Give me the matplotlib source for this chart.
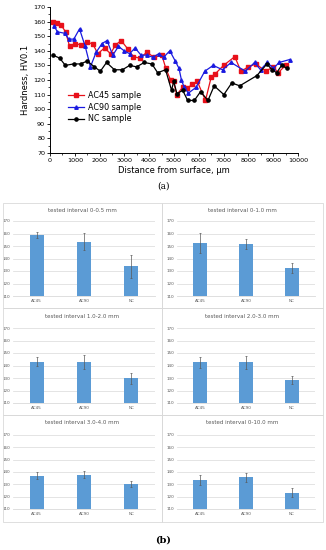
import numpy as np
import matplotlib
matplotlib.use('Agg')
from matplotlib import pyplot as plt
from matplotlib.patches import Rectangle
from matplotlib.ticker import MultipleLocator

# ---- hardness profiles (a)
ac45_x = [120, 270, 430, 630, 790, 1020, 1245, 1510, 1730, 1930, 2200, 2440, 2640, 2870, 3150,
          3360, 3610, 3910, 4200, 4510, 4670, 4860, 4980, 5110, 5350, 5540, 5740, 5940, 6270,
          6500, 6650, 7000, 7450, 7700, 8000, 8300, 8700, 9000, 9200, 9500]
ac45_y = [160, 159, 158, 153, 143, 145, 144, 146, 144.5, 138, 142, 138, 144, 147, 141,
          136, 135, 139, 135.5, 137, 128, 120, 119, 110, 115, 114.5, 117, 119, 106,
          122, 124, 130, 136, 126, 129, 131, 126, 129, 125, 130]

ac90_x = [160, 300, 590, 760, 960, 1190, 1420, 1630, 1860, 2100, 2300, 2530, 2760, 2990, 3210,
          3430, 3670, 3920, 4150, 4380, 4580, 4830, 5050, 5200, 5300, 5410, 5580, 5890, 6240,
          6580, 6960, 7300, 7880, 8250, 8490, 8760, 9010, 9240, 9660]
ac90_y = [157, 153, 152, 148, 148, 155, 143, 129, 139, 145, 147, 137, 143, 140, 138,
          142, 137, 137, 135.5, 138, 135.5, 140, 133, 128, 120, 115, 111, 115, 126,
          130, 127, 132, 126, 132, 127, 132, 128, 132, 134]

nc_x = [120, 390, 620, 950, 1230, 1500, 1790, 2030, 2280, 2600, 2920, 3210, 3490, 3800, 4110,
        4340, 4660, 4900, 4990, 5120, 5350, 5550, 5820, 6070, 6370, 6620, 7010, 7330, 7650,
        8340, 8750, 8950, 9140, 9340, 9560]
nc_y = [137, 135, 130, 131, 131, 133, 129, 126, 132, 127, 127, 130, 129, 132, 131,
        125, 127, 113, 119, 110.5, 113, 106, 106, 112, 106, 116, 110, 118, 116,
        123, 131, 127, 125, 130, 128]

# ---- interval means (b)
samples = ['AC45', 'AC90', 'NC']
intervals = ['0-0.5 mm', '0-1.0 mm', '1.0-2.0 mm', '2.0-3.0 mm', '3.0-4.0 mm', '0-10.0 mm']
means = [[158.8, 153.6, 133.8],
         [152.6, 152.0, 132.7],
         [143.2, 142.6, 129.7],
         [142.6, 142.6, 128.5],
         [136.9, 137.9, 130.3],
         [133.4, 135.6, 123.3]]
errs = [[2.7, 6.6, 9.3],
        [8.0, 4.0, 4.0],
        [3.3, 5.5, 4.7],
        [4.4, 5.0, 3.2],
        [2.8, 2.8, 2.2],
        [4.3, 3.5, 3.5]]

W, H = 326, 550
fig = plt.figure(figsize=(W / 100, H / 100), dpi=100)

def fx(px):
    return px / W

def fy(py):
    return 1 - py / H

# top line chart
ax = fig.add_axes([fx(50), fy(153), fx(298) - fx(50), fy(7) - fy(153)])
ax.plot(ac45_x, ac45_y, '-s', color='#e8101a', ms=2.3, lw=0.9, label='AC45 sample')
ax.plot(ac90_x, ac90_y, '-^', color='#1a1ae0', ms=2.5, lw=0.9, label='AC90 sample')
ax.plot(nc_x, nc_y, '-o', color='black', ms=2.3, lw=0.9, label='NC sample')
ax.set_xlim(0, 10000)
ax.set_ylim(70, 170)
ax.set_xticks(np.arange(0, 10001, 1000))
ax.set_yticks(np.arange(70, 171, 10))
ax.xaxis.set_minor_locator(MultipleLocator(500))
ax.yaxis.set_minor_locator(MultipleLocator(5))
ax.tick_params(labelsize=4.6, length=2, width=0.6, pad=1.5)
ax.tick_params(which='minor', length=1.2, width=0.5)
for s in ['top', 'right']:
    ax.spines[s].set_visible(False)
for s in ['left', 'bottom']:
    ax.spines[s].set_linewidth(0.7)
ax.set_xlabel('Distance from surface, \u03bcm', fontsize=6, labelpad=2)
ax.set_ylabel('Hardness, HV0.1', fontsize=6, labelpad=2)
ax.legend(loc='lower left', bbox_to_anchor=(0.06, 0.18), fontsize=5.8, frameon=False,
          handlelength=2.0, labelspacing=0.35, borderaxespad=0, handletextpad=0.5)
fig.text(fx(163), fy(186), '(a)', fontsize=6.5, family='DejaVu Serif', ha='center', va='center')

# bar panels
col_box = [(3, 162), (162, 323)]
row_box = [(203, 308), (308, 415), (415, 522)]
col_ax = [(13, 155), (177, 315)]
row_ax = [(221, 296), (328, 403), (435, 509)]
row_title = [210, 316, 423]

for k in range(6):
    r, c = divmod(k, 2)
    x0, x1 = col_box[c]
    y0, y1 = row_box[r]
    fig.patches.append(Rectangle((fx(x0), fy(y1)), fx(x1) - fx(x0), fy(y0) - fy(y1),
                                 transform=fig.transFigure, fill=False, ec='#d9d9d9', lw=0.6))
    ax0, ax1 = col_ax[c]
    ay0, ay1 = row_ax[r]
    b = fig.add_axes([fx(ax0), fy(ay1), fx(ax1) - fx(ax0), fy(ay0) - fy(ay1)])
    xs = np.arange(len(samples))
    hts = [m - 110 for m in means[k]]
    b.bar(xs, hts, bottom=110, width=0.3, color='#5b9bd5', zorder=3)
    b.errorbar(xs, means[k], yerr=errs[k], fmt='none', ecolor='#595959', elinewidth=0.5,
               capsize=1, capthick=0.5, zorder=4)
    b.set_xlim(-0.5, 2.5)
    b.set_ylim(110, 170)
    b.set_yticks(np.arange(110, 171, 10))
    b.set_xticks(xs)
    b.set_xticklabels(samples)
    b.yaxis.grid(True, color='#d9d9d9', lw=0.5, zorder=0)
    for s in ['top', 'right', 'left']:
        b.spines[s].set_visible(False)
    b.spines['bottom'].set_color('#d9d9d9')
    b.spines['bottom'].set_linewidth(0.6)
    b.tick_params(length=0, labelsize=3, labelcolor='#595959', pad=2)
    fig.text(fx((x0 + x1) / 2), fy(row_title[r]), 'tested interval ' + intervals[k],
             fontsize=4, color='#595959', ha='center', va='center')

fig.text(fx(163), fy(540), '(b)', fontsize=7, family='DejaVu Serif', weight='bold',
         ha='center', va='center')

fig.savefig('out.png', dpi=100)
